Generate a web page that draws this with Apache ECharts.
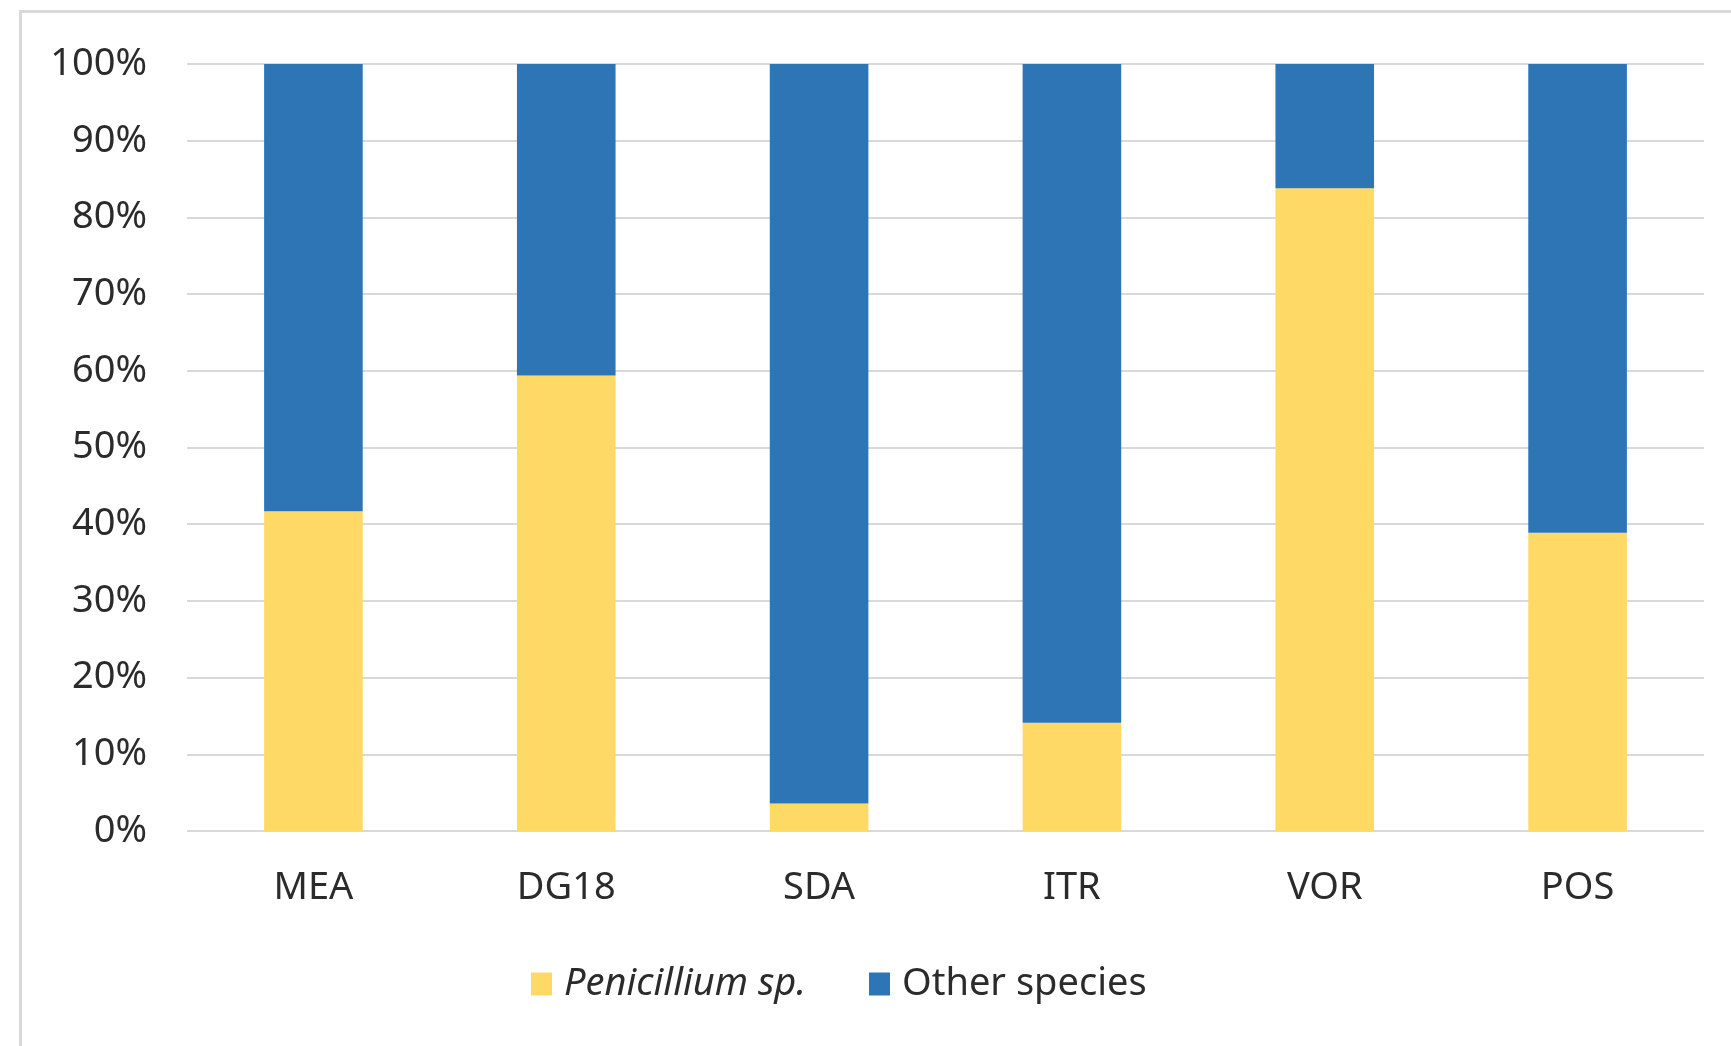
<!DOCTYPE html>
<html>
<head>
<meta charset="utf-8">
<script src="https://cdn.jsdelivr.net/npm/echarts@6/dist/echarts.min.js"></script>
<style>
  html, body { margin: 0; padding: 0; background: #ffffff; }
  #chart { width: 1731px; height: 1046px; }
</style>
</head>
<body>
<div id="chart"></div>
<script>
// Share of isolates per culture medium (%)
const categories = ['MEA', 'DG18', 'SDA', 'ITR', 'VOR', 'POS'];
const penicillium = [41.7, 59.4, 3.6, 14.1, 83.8, 38.9];
const otherSpecies = [58.3, 40.6, 96.4, 85.9, 16.2, 61.1];
const seriesNames = ['Penicillium sp.', 'Other species'];

const FONT = '"Noto Sans", "Open Sans", sans-serif';
const TEXT = '#2b2b2b';
const SIZE = 38;

const chart = echarts.init(document.getElementById('chart'), null, { renderer: 'canvas' });

chart.setOption({
  animation: false,
  backgroundColor: '#ffffff',
  graphic: [{
    type: 'rect',
    shape: { x: 20.5, y: 11.5, width: 1800, height: 1100 },
    style: { fill: 'none', stroke: '#d9d9d9', lineWidth: 3 },
    silent: true,
    z: -1
  }],
  grid: { left: 187, right: 27, top: 64, bottom: 215, containLabel: false },
  legend: {
    left: 531,
    top: 965,
    padding: 0,
    itemWidth: 21,
    itemHeight: 23,
    itemGap: 63,
    icon: 'rect',
    data: seriesNames,
    formatter: function (name) {
      return name === 'Penicillium sp.' ? '{i|' + name + '}' : name;
    },
    textStyle: {
      fontFamily: FONT,
      fontSize: SIZE,
      color: TEXT,
      padding: [0, 0, 0, 7],
      rich: { i: { fontStyle: 'italic', fontFamily: FONT, fontSize: SIZE, color: TEXT } }
    }
  },
  xAxis: {
    type: 'category',
    data: categories,
    axisLine: { show: false },
    axisTick: { show: false },
    axisLabel: { fontFamily: FONT, fontSize: SIZE, color: TEXT, margin: 38 }
  },
  yAxis: {
    type: 'value',
    min: 0,
    max: 100,
    interval: 10,
    axisLine: { show: false },
    axisTick: { show: false },
    splitLine: { lineStyle: { color: '#d9d9d9', width: 2 } },
    axisLabel: {
      fontFamily: FONT, fontSize: SIZE, color: TEXT, margin: 40,
      formatter: '{value}%'
    }
  },
  series: [
    {
      name: seriesNames[0],
      type: 'bar',
      stack: 'total',
      data: penicillium,
      barWidth: '39%',
      itemStyle: { color: '#fed966' }
    },
    {
      name: seriesNames[1],
      type: 'bar',
      stack: 'total',
      data: otherSpecies,
      barWidth: '39%',
      itemStyle: { color: '#2e75b5' }
    }
  ]
});
</script>
</body>
</html>
